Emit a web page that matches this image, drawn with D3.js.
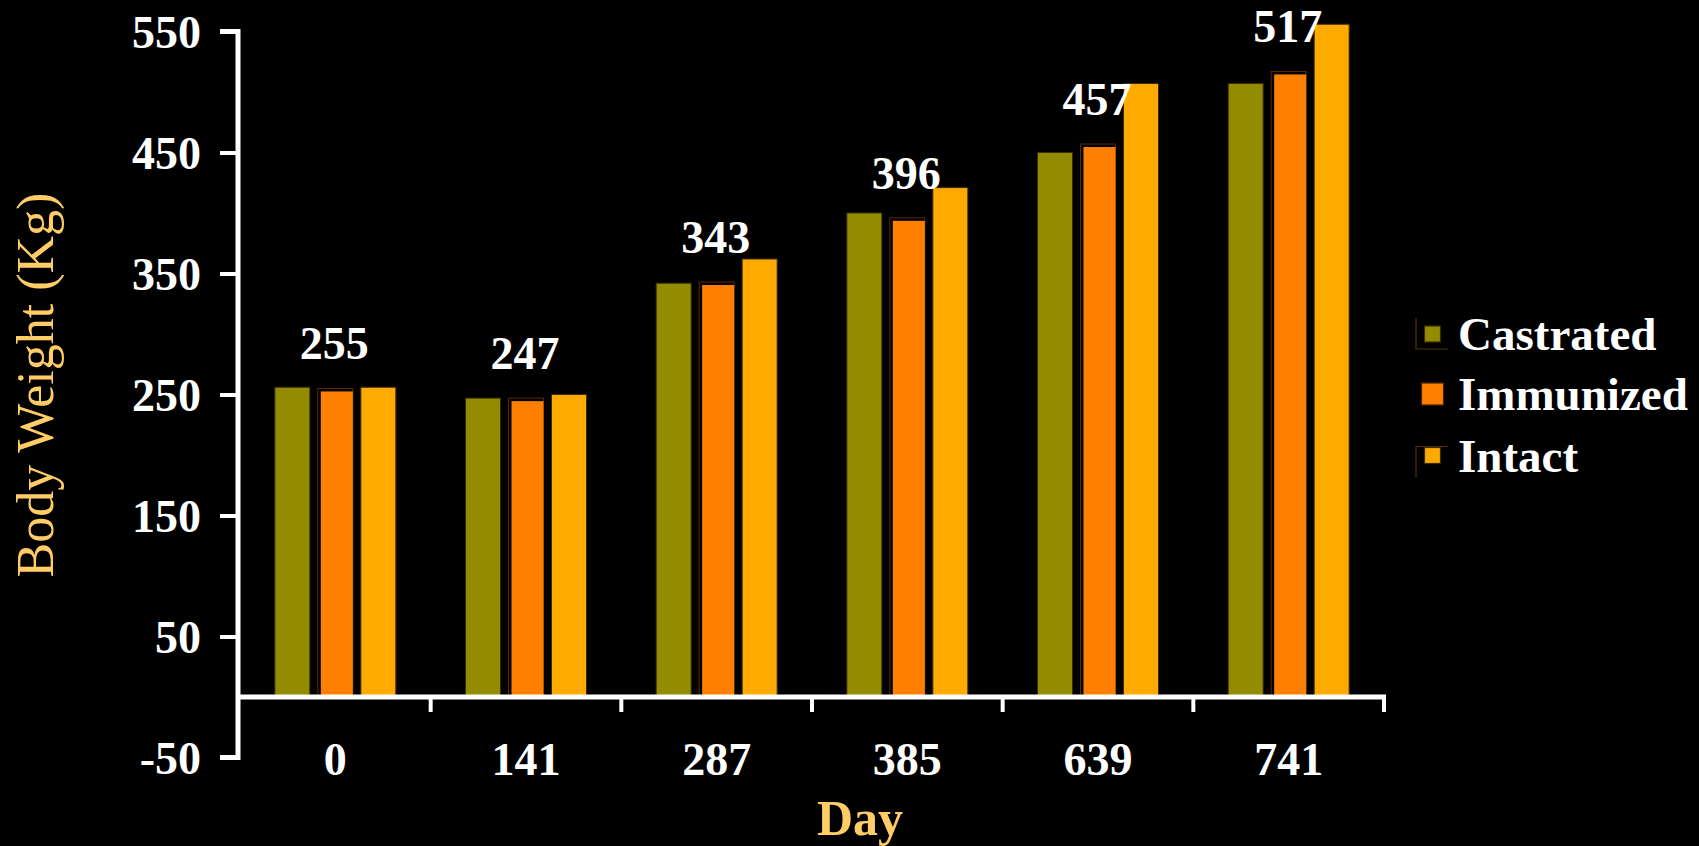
<!DOCTYPE html>
<html>
<head>
<meta charset="utf-8">
<script src="https://cdn.jsdelivr.net/npm/d3@7/dist/d3.min.js"></script>
<style>
  html, body { margin: 0; padding: 0; background: #000; }
  svg { display: block; }
  text { font-family: "Liberation Serif", "Times New Roman", serif; }
</style>
</head>
<body>
<svg id="chart" width="1699" height="846"></svg>
<script>
// ---- Data ----
const days = ["0", "141", "287", "385", "639", "741"];
const seriesNames = ["Castrated", "Immunized", "Intact"];
const castrated = [256, 247, 342, 400, 450, 507];
const immunized = [255, 247, 343, 396, 457, 517];
const intact = [256, 250, 362, 421, 507, 556];
const labelValues = [255, 247, 343, 396, 457, 517];
const yTicks = [-50, 50, 150, 250, 350, 450, 550];
const seriesColors = ["#948C00", "#FF8000", "#FFAA00"];

const seriesData = [castrated, immunized, intact];

const svg = d3.select("#chart");
svg.append("rect").attr("width", 1699).attr("height", 846).attr("fill", "#000");

const left = 238, right = 1386;
const y = d3.scaleLinear().domain([-50, 550]).range([757.5, 31.5]);
const x0 = d3.scaleBand().domain(days).range([240, 1384]).padding(0);
const x1 = d3.scaleBand().domain(seriesNames).range([-60.5, 60.5]).paddingInner(0.186).paddingOuter(0);

// ---- Bars ----
const rows = [];
days.forEach((d, i) => {
  seriesNames.forEach((s, j) => rows.push({ day: d, series: s, j, value: seriesData[j][i] }));
});

const bx = r => x0(r.day) + x0.bandwidth() / 2 + x1(r.series);
const bars = svg.append("g");
// outline (dark frame) for every bar
bars.selectAll("rect.frame")
  .data(rows)
  .join("rect")
  .attr("class", "frame")
  .attr("x", bx)
  .attr("width", x1.bandwidth())
  .attr("y", r => y(r.value))
  .attr("height", r => y(0) - y(r.value))
  .attr("fill", r => r.j === 1 ? "#000" : seriesColors[r.j])
  .attr("stroke", r => r.j === 1 ? "#5a2a00" : "#3a2e00")
  .attr("stroke-width", 1);
// inset fill for Immunized
bars.selectAll("rect.fill")
  .data(rows.filter(r => r.j === 1))
  .join("rect")
  .attr("class", "fill")
  .attr("x", r => bx(r) + 3)
  .attr("width", x1.bandwidth() - 3)
  .attr("y", r => y(r.value) + 3)
  .attr("height", r => y(0) - y(r.value) - 3)
  .attr("fill", seriesColors[1]);

// ---- Y axis ----
const yAxis = d3.axisLeft(y).tickValues(yTicks).tickSize(18).tickPadding(19).tickFormat(d => String(d));
const gy = svg.append("g").attr("transform", `translate(${left},0)`).call(yAxis);
gy.select(".domain").attr("stroke", "#fff").attr("stroke-width", 5)
  .attr("d", `M-18,${y(550)}H0V${y(-50)}H-18`);
gy.selectAll(".tick line").attr("stroke", "#fff").attr("stroke-width", 4);
gy.selectAll(".tick text").attr("fill", "#fff").attr("font-size", 46).attr("font-weight", "bold")
  .attr("font-family", "'Liberation Serif', 'Times New Roman', serif").attr("dy", "0.34em");

// ---- X axis ----
const xAxis = d3.axisBottom(x0).tickSize(0).tickPadding(0);
const gx = svg.append("g").attr("transform", `translate(0,${y(0)})`).call(xAxis);
gx.select(".domain").attr("stroke", "#fff").attr("stroke-width", 5)
  .attr("d", `M${left},0H${right}`);
gx.selectAll(".tick text").attr("fill", "#fff").attr("font-size", 46).attr("font-weight", "bold")
  .attr("font-family", "'Liberation Serif', 'Times New Roman', serif")
  .attr("y", 775 - y(0)).attr("dy", 0);
// boundary ticks
gx.append("g").selectAll("line")
  .data(days)
  .join("line")
  .attr("x1", d => x0(d) + x0.bandwidth())
  .attr("x2", d => x0(d) + x0.bandwidth())
  .attr("y1", 0).attr("y2", 15)
  .attr("stroke", "#fff").attr("stroke-width", 4);

// ---- Data labels ----
svg.append("g").selectAll("text")
  .data(days)
  .join("text")
  .attr("x", d => x0(d) + x0.bandwidth() / 2 - 1)
  .attr("y", (d, i) => y(labelValues[i]) - 29)
  .attr("text-anchor", "middle")
  .attr("fill", "#fff").attr("font-size", 46).attr("font-weight", "bold")
  .text((d, i) => labelValues[i]);

// ---- Axis titles ----
svg.append("text")
  .attr("transform", `translate(53,385) rotate(-90)`)
  .attr("text-anchor", "middle")
  .attr("fill", "#FFCC66").attr("font-size", 52)
  .text("Body Weight (Kg)");

svg.append("text")
  .attr("x", 860).attr("y", 835)
  .attr("text-anchor", "middle")
  .attr("fill", "#FFCC66").attr("font-size", 50).attr("font-weight", "bold")
  .text("Day");

// ---- Legend ----
const legendY = [350, 410, 471.5];
const legend = svg.append("g");
seriesNames.forEach((s, j) => {
  const g = legend.append("g");
  const cy = legendY[j] - 16;
  const sz = j === 1 ? 22 : 16;
  if (j === 0) {
    g.append("path").attr("d", `M1416,${cy - 16}V${cy + 15}H1448`).attr("fill", "none").attr("stroke", "#4a3800").attr("stroke-width", 1.2);
  } else if (j === 2) {
    g.append("path").attr("d", `M1416,${cy + 22}V${cy - 9}H1448`).attr("fill", "none").attr("stroke", "#4a3000").attr("stroke-width", 1.2);
  }
  g.append("rect")
    .attr("x", 1432.5 - sz / 2).attr("y", cy - sz / 2)
    .attr("width", sz).attr("height", sz)
    .attr("fill", seriesColors[j])
    .attr("stroke", j === 1 ? "#4a2200" : "#3a2e00").attr("stroke-width", 1.2);
  g.append("text")
    .attr("x", 1458).attr("y", legendY[j])
    .attr("fill", "#fff").attr("font-size", 47).attr("font-weight", "bold")
    .text(s);
});
</script>
</body>
</html>
